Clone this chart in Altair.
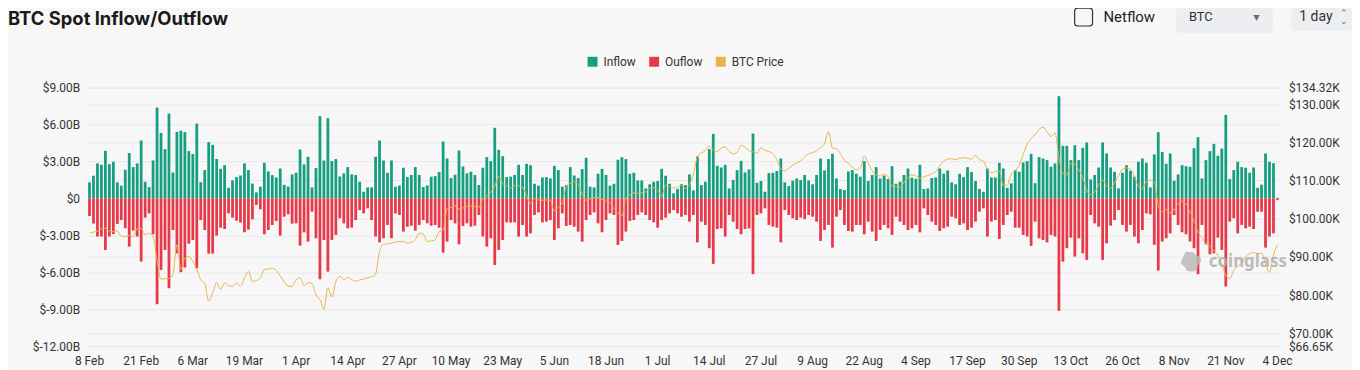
import altair as alt
import pandas as pd

# ---- categories: one bar per day, 8 Feb -> 4 Dec 2025 ----
DATES = [d.strftime("%-d %b") for d in pd.date_range("2025-02-08", "2025-12-04", freq="D")]
X_TICKS = DATES[::13]

# ---- daily spot inflow (billions USD) ----
INFLOW = [
    1.30, 1.84, 2.84, 2.73, 3.86, 2.78, 2.97, 1.30, 1.03, 2.32,
    3.68, 2.54, 2.84, 4.70, 1.35, 0.92, 3.08, 7.38, 5.32, 4.00,
    6.89, 2.10, 5.40, 5.50, 5.38, 3.84, 3.60, 6.08, 1.32, 2.30,
    4.57, 4.35, 3.20, 2.40, 2.70, 0.86, 1.46, 1.73, 1.86, 2.84,
    2.30, 1.20, 0.49, 0.95, 2.89, 2.19, 1.89, 1.70, 2.43, 1.10,
    0.97, 1.95, 2.08, 3.97, 2.76, 3.38, 0.89, 2.46, 6.68, 3.08,
    6.51, 3.03, 3.19, 1.78, 2.03, 2.54, 1.95, 1.90, 1.35, 0.54,
    0.89, 0.89, 3.38, 4.70, 3.08, 2.08, 3.08, 0.95, 1.05, 2.49,
    1.73, 1.90, 2.54, 1.90, 0.92, 1.05, 1.76, 1.81, 2.14, 4.62,
    3.24, 1.65, 1.92, 3.89, 2.59, 2.03, 2.16, 1.90, 1.08, 2.49,
    3.35, 3.03, 5.73, 3.95, 3.43, 1.73, 1.76, 1.90, 2.73, 1.90,
    2.81, 2.70, 1.19, 1.03, 1.70, 1.73, 1.62, 2.65, 2.30, 0.95,
    1.08, 2.54, 1.86, 1.65, 2.38, 3.30, 0.95, 0.89, 2.00, 2.40,
    1.90, 1.03, 1.19, 3.14, 3.35, 3.19, 2.00, 2.08, 1.46, 1.46,
    0.81, 1.14, 1.35, 1.41, 2.40, 1.84, 1.19, 0.41, 0.76, 1.16,
    1.08, 1.95, 0.65, 3.41, 1.08, 1.35, 4.00, 5.24, 2.65, 2.51,
    2.73, 0.81, 1.49, 2.30, 3.05, 2.11, 2.35, 5.27, 1.27, 1.41,
    0.54, 2.05, 2.08, 2.22, 3.24, 1.30, 1.00, 1.43, 1.62, 1.49,
    1.90, 1.46, 1.14, 1.90, 3.24, 2.27, 3.19, 3.62, 1.62, 0.76,
    0.68, 2.19, 2.30, 2.00, 1.76, 3.03, 1.41, 1.90, 2.54, 1.62,
    1.84, 1.57, 2.62, 1.19, 1.35, 1.90, 2.43, 1.68, 1.59, 2.73,
    0.76, 0.81, 1.65, 1.70, 2.43, 2.00, 2.27, 1.30, 1.14, 2.00,
    1.73, 2.54, 2.14, 1.41, 0.76, 0.54, 2.43, 1.70, 1.70, 2.89,
    2.43, 0.86, 1.22, 2.30, 2.16, 2.92, 3.03, 3.62, 1.24, 3.35,
    3.24, 3.11, 2.57, 2.84, 8.30, 4.27, 4.27, 3.11, 4.32, 3.11,
    4.11, 4.54, 1.54, 1.90, 2.51, 4.54, 3.65, 2.51, 2.16, 0.81,
    2.08, 2.70, 2.24, 1.76, 2.97, 3.24, 2.89, 0.89, 3.57, 5.38,
    3.78, 2.81, 3.65, 1.43, 1.95, 2.70, 2.62, 2.57, 4.08, 4.97,
    1.62, 3.11, 3.84, 4.43, 3.46, 4.05, 6.78, 1.57, 2.30, 2.97,
    2.54, 2.49, 2.08, 2.51, 0.86, 1.11, 3.65, 2.97, 2.86, 0.04,
]

# ---- daily spot outflow (billions USD, negative) ----
OUTFLOW = [
    -1.43, -2.05, -3.10, -3.10, -4.19, -3.10, -2.90, -2.08, -1.76, -2.43,
    -3.92, -2.62, -3.10, -5.14, -1.57, -1.22, -2.92, -8.60, -5.81, -4.19,
    -7.30, -2.57, -4.46, -6.00, -5.62, -3.68, -3.38, -5.68, -1.76, -2.57,
    -4.49, -4.49, -3.03, -2.38, -2.49, -1.22, -1.57, -1.81, -1.97, -2.76,
    -2.54, -1.70, -0.54, -0.89, -2.92, -2.57, -2.16, -1.84, -3.03, -1.49,
    -1.30, -2.05, -2.03, -3.84, -2.76, -3.51, -1.08, -3.24, -6.57, -3.38,
    -5.95, -3.38, -2.97, -1.62, -2.03, -2.43, -2.38, -1.76, -0.95, -1.22,
    -0.81, -1.76, -3.10, -3.57, -3.24, -2.16, -3.24, -1.22, -1.35, -2.70,
    -2.30, -2.22, -2.62, -2.16, -1.76, -2.03, -2.22, -2.16, -2.38, -4.41,
    -3.51, -1.76, -2.03, -3.73, -2.24, -2.03, -2.30, -2.22, -1.35, -3.10,
    -3.92, -3.24, -5.41, -4.19, -3.38, -1.95, -1.97, -1.95, -3.10, -2.16,
    -3.10, -2.84, -1.35, -1.14, -1.95, -1.89, -1.76, -3.38, -2.43, -1.22,
    -2.24, -2.16, -2.30, -2.70, -3.51, -1.76, -1.35, -1.14, -2.03, -2.76,
    -1.76, -1.22, -1.35, -3.78, -3.46, -2.70, -1.84, -1.76, -1.35, -1.14,
    -1.35, -1.76, -1.95, -2.38, -1.76, -1.57, -1.22, -0.95, -1.22, -1.49,
    -1.35, -1.89, -1.35, -3.57, -1.89, -2.16, -4.05, -5.32, -2.49, -2.43,
    -3.10, -1.35, -1.89, -2.49, -2.92, -2.49, -2.43, -6.16, -1.35, -1.22,
    -0.81, -2.16, -2.30, -2.38, -3.57, -0.95, -1.35, -1.62, -1.76, -1.57,
    -1.68, -1.35, -1.49, -1.89, -3.46, -2.57, -2.16, -4.00, -1.49, -0.95,
    -2.16, -2.65, -2.70, -2.16, -2.16, -2.92, -1.89, -2.70, -3.46, -2.57,
    -2.16, -2.43, -2.97, -1.49, -1.89, -2.16, -2.57, -2.43, -2.16, -2.76,
    -0.81, -1.35, -1.89, -2.16, -2.65, -2.43, -2.30, -1.49, -1.62, -2.16,
    -2.03, -2.57, -2.38, -1.89, -1.08, -0.81, -3.10, -1.89, -1.76, -3.30,
    -2.16, -1.35, -1.08, -2.38, -2.38, -2.97, -3.10, -3.86, -1.89, -3.24,
    -3.38, -3.57, -2.97, -3.10, -9.14, -5.14, -4.05, -3.19, -4.73, -3.24,
    -4.46, -5.00, -1.35, -2.03, -2.30, -5.00, -3.65, -2.22, -1.76, -0.95,
    -2.16, -2.70, -2.16, -3.10, -3.65, -2.57, -1.22, -1.30, -3.78, -5.86,
    -3.51, -3.24, -2.84, -1.35, -2.16, -2.76, -2.92, -3.51, -4.05, -6.16,
    -2.16, -3.73, -4.54, -4.46, -3.19, -4.19, -7.16, -1.89, -1.62, -2.84,
    -2.16, -2.43, -2.30, -2.49, -1.08, -1.08, -4.00, -3.10, -2.84, -0.12,
]

# ---- BTC price (thousands USD) ----
PRICE = [
    96.2, 96.5, 96.8, 97.3, 97.5, 96.8, 96.6, 96.8, 95.4, 95.3,
    95.6, 95.3, 97.4, 97.5, 95.8, 96.2, 95.3, 89.0, 84.1, 84.3,
    84.3, 85.4, 93.2, 86.7, 89.7, 90.1, 88.8, 86.7, 84.0, 83.0,
    78.4, 80.6, 83.2, 81.5, 83.2, 82.5, 82.3, 83.2, 82.3, 84.5,
    86.2, 83.6, 83.8, 84.5, 86.7, 86.8, 87.0, 86.5, 85.0, 83.5,
    82.3, 82.3, 84.0, 84.5, 82.5, 83.3, 83.0, 80.0, 78.8, 76.3,
    82.0, 79.5, 83.5, 84.9, 84.0, 84.6, 84.0, 83.6, 84.0, 84.2,
    84.5, 84.8, 85.5, 91.4, 93.3, 93.4, 93.6, 93.9, 94.0, 94.0,
    93.6, 93.8, 94.5, 96.2, 96.0, 94.0, 94.2, 94.5, 96.6, 97.0,
    102.5, 103.0, 103.4, 102.5, 102.8, 103.2, 103.3, 103.2, 103.0, 105.3,
    105.8, 107.0, 108.5, 111.0, 109.2, 108.6, 108.0, 108.6, 108.6, 108.2,
    106.0, 104.0, 105.3, 104.9, 104.8, 104.9, 104.8, 102.0, 103.0, 104.0,
    108.5, 109.2, 109.6, 109.0, 106.5, 104.8, 105.2, 105.5, 105.6, 105.0,
    104.6, 104.2, 102.6, 101.5, 100.8, 105.3, 106.2, 106.8, 106.6, 106.8,
    107.0, 108.0, 108.1, 107.5, 105.8, 108.8, 108.4, 108.0, 108.2, 108.8,
    107.9, 109.0, 111.5, 116.2, 117.2, 117.8, 119.0, 118.0, 117.6, 118.5,
    118.8, 117.6, 117.0, 117.4, 119.2, 118.7, 117.8, 117.5, 117.2, 118.6,
    117.9, 117.6, 117.0, 115.5, 113.0, 112.5, 113.2, 114.0, 114.6, 115.2,
    116.2, 117.0, 117.3, 117.8, 118.6, 119.6, 122.8, 118.5, 118.3, 117.0,
    115.3, 114.5, 113.5, 112.8, 113.2, 116.4, 114.5, 112.5, 111.4, 111.2,
    111.6, 111.0, 108.5, 108.4, 108.2, 109.5, 110.8, 111.5, 111.2, 110.6,
    111.0, 111.3, 111.8, 112.3, 113.8, 115.1, 115.6, 115.7, 115.5, 115.8,
    116.0, 115.8, 115.6, 116.6, 115.5, 115.0, 113.0, 112.0, 112.4, 112.5,
    108.6, 108.8, 111.7, 112.5, 114.0, 116.8, 119.5, 121.0, 122.0, 123.3,
    124.0, 122.7, 121.5, 122.5, 116.0, 111.8, 111.5, 114.5, 114.2, 112.8,
    110.8, 107.4, 106.3, 107.0, 108.8, 110.1, 108.6, 108.0, 109.4, 111.2,
    113.0, 113.3, 113.0, 111.0, 108.5, 107.8, 109.8, 110.1, 109.5, 103.5,
    101.8, 102.4, 101.5, 102.3, 104.0, 104.6, 103.8, 101.7, 99.5, 96.5,
    95.0, 93.5, 92.8, 91.6, 90.4, 88.0, 85.2, 84.3, 86.5, 87.5,
    88.4, 90.0, 90.8, 91.2, 90.8, 91.0, 88.2, 86.0, 90.5, 93.2,
]

SERIES = ["Inflow", "Ouflow", "BTC Price"]
COLORS = ["#169e80", "#e8394a", "#e6b44c"]
LEFT_TICKS = [-12, -9, -6, -3, 0, 3, 6, 9]
RIGHT_TICKS = [66.65, 70, 80, 90, 100, 110, 120, 130, 134.32]

FONT = "Roboto"
TXT = "#333333"

bars_df = pd.DataFrame({
    "date": DATES + DATES,
    "value": INFLOW + OUTFLOW,
    "series": ["Inflow"] * len(DATES) + ["Ouflow"] * len(DATES),
})
price_df = pd.DataFrame({"date": DATES, "price": PRICE, "series": ["BTC Price"] * len(DATES)})

color_scale = alt.Scale(domain=SERIES, range=COLORS)

x_enc = alt.X(
    "date:N", sort=DATES,
    scale=alt.Scale(paddingInner=0.3, paddingOuter=0.15),
    axis=alt.Axis(values=X_TICKS, title=None, labelAngle=0, ticks=False, domain=False,
                  grid=False, labelPadding=10, labelFontSize=12, labelColor=TXT,
                  labelFont=FONT, labelOverlap=False),
)

bars = alt.Chart(bars_df).mark_bar().encode(
    x=x_enc,
    y=alt.Y("value:Q",
            scale=alt.Scale(domain=[-12, 9], nice=False, zero=True),
            axis=alt.Axis(values=LEFT_TICKS, title=None, ticks=False, domain=False,
                          grid=True, gridColor="#e8e8e8", labelPadding=8,
                          labelFontSize=12, labelColor=TXT, labelFont=FONT,
                          labelOverlap=False,
                          labelExpr="datum.value == 0 ? '$0' : (datum.value < 0 ? '$-' + format(-datum.value, '.2f') + 'B' : '$' + format(datum.value, '.2f') + 'B')")),
    color=alt.Color("series:N", scale=color_scale,
                    legend=alt.Legend(title=None, orient="none", legendX=502, legendY=-32,
                                      direction="horizontal", symbolType="square",
                                      symbolSize=100, symbolStrokeWidth=0,
                                      labelFontSize=12, labelFont=FONT, labelColor=TXT,
                                      columnPadding=12, labelOffset=5, padding=0)),
)

line = alt.Chart(price_df).mark_line(strokeWidth=1, interpolate="monotone").encode(
    x=alt.X("date:N", sort=DATES),
    y=alt.Y("price:Q",
            scale=alt.Scale(domain=[66.65, 134.32], nice=False, zero=False),
            axis=alt.Axis(orient="right", values=RIGHT_TICKS, title=None, ticks=False,
                          domain=False, grid=True, gridColor="#e8e8e8", labelPadding=9,
                          labelFontSize=12, labelColor=TXT, labelFont=FONT,
                          labelOverlap=False,
                          labelExpr="'$' + format(datum.value, '.2f') + 'K'")),
    color=alt.Color("series:N", scale=color_scale, legend=None),
)

one = pd.DataFrame({"t": [""]})


def label(text, x, y, size, color=TXT, weight="normal", font=FONT, opacity=1.0):
    return alt.Chart(pd.DataFrame({"t": [text]})).mark_text(
        align="left", baseline="middle", fontSize=size, font=font, fontWeight=weight,
        color=color, opacity=opacity,
    ).encode(x=alt.value(x), y=alt.value(y), text="t:N")


def box(x, x2, y, y2, **kw):
    return alt.Chart(one).mark_rect(**kw).encode(
        x=alt.value(x), x2=alt.value(x2), y=alt.value(y), y2=alt.value(y2))


title = label("BTC Spot Inflow/Outflow", -80, -69, 18.5, color="#1a1a1a", weight="bold", font="Inter")
check = box(993, 1011, -80, -62, fillOpacity=0, stroke="#333333", strokeWidth=1.2, cornerRadius=3)
netflow = label("Netflow", 1022, -71, 15, color="#222222")
btc_box = box(1095, 1193, -80, -55, fill="#eceef1", cornerRadius=4)
btc_txt = label("BTC", 1108, -71, 13)
caret = label("▾", 1173, -71, 12, color="#666666", font="DejaVu Sans")
day_box = box(1211, 1272, -80, -57, fill="#eceef1", cornerRadius=4)
day_txt = label("1 day", 1219, -71, 14)
up = label("⌃", 1260, -75, 9, color="#666666", font="DejaVu Sans")
down = label("⌄", 1260, -67, 9, color="#666666", font="DejaVu Sans")

logo = alt.Chart(one).mark_point(
    shape="M-0.5,-1 L0.3,-0.9 L0.5,-0.6 L0.9,-0.5 L1,0 L0.7,0.3 L0.6,0.8 L0.2,1 L-0.4,0.9 L-0.6,0.5 L-1,0.2 L-0.8,-0.4 Z",
    filled=True, size=420, color="#b8b8b8", opacity=0.85,
).encode(x=alt.value(1110), y=alt.value(175))
mark_wm = label("coinglass", 1128, 175, 17, color="#b0b0b0", weight="bold", font="Noto Sans", opacity=0.85)

chart = alt.layer(
    bars, line, title, check, netflow, btc_box, btc_txt, caret, day_box, day_txt, up, down,
    logo, mark_wm
).resolve_scale(
    y="independent"
).properties(
    width=1199, height=260,
    padding={"left": 80, "top": 79, "right": 73, "bottom": 25},
    autosize=alt.AutoSizeParams(type="none"),
    background="#f7f7f7",
).configure_view(stroke=None)

chart.save("out.html", embed_options={"renderer": "svg", "actions": False})
